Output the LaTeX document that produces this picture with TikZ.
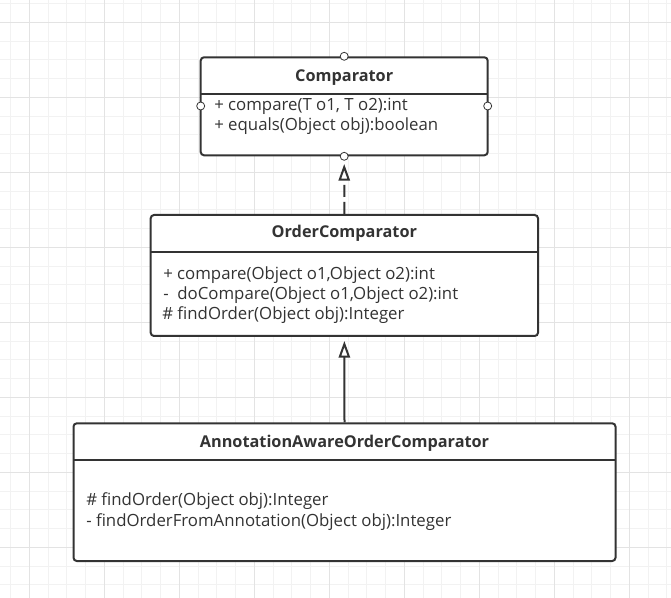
\documentclass[tikz,border=0pt]{standalone}
\usepackage{fontspec}
\setmainfont{Open Sans}
\usetikzlibrary{arrows.meta}
\definecolor{ink}{HTML}{333333}
\definecolor{gridminor}{HTML}{F2F2F2}
\definecolor{gridmajor}{HTML}{E3E3E3}
\tikzset{
  classbox/.style={draw=ink, line width=1.5pt, rounded corners=2.5pt, fill=white, inner sep=0pt},
  divider/.style={draw=ink, line width=1.5pt},
  classtitle/.style={font=\fontsize{12.2pt}{14pt}\selectfont\bfseries, text=ink, inner sep=0pt},
  member/.style={font=\fontsize{12.6pt}{14pt}\selectfont, text=ink, inner sep=0pt, anchor=west, align=left},
  port/.style={circle, draw=ink, line width=0.6pt, fill=white, minimum size=6pt, inner sep=0pt},
  realize/.style={draw=ink, line width=1.5pt, dash pattern=on 9pt off 3.75pt, -{Triangle[open, length=12.5pt, width=8.5pt, line width=1.5pt]}, shorten >=2.5pt},
  inherit/.style={draw=ink, line width=1.5pt, -{Triangle[open, length=12.5pt, width=8.5pt, line width=1.5pt]}, shorten >=3pt}
}
\begin{document}
\begin{tikzpicture}[x=0.75pt, y=-0.75pt]
\useasboundingbox (0,0) rectangle (671,598);
\fill[white] (0,0) rectangle (671,598);
% grid
\foreach \i in {0,...,35} {
  \draw[gridminor, line width=0.75pt] (10.55+18.75*\i,0) -- (10.55+18.75*\i,598);
  \draw[gridminor, line width=0.75pt] (0,3.55+18.75*\i) -- (671,3.55+18.75*\i);
}
\foreach \i in {0,...,8} {
  \draw[gridmajor, line width=0.75pt] (29.3+75*\i,0) -- (29.3+75*\i,598);
  \draw[gridmajor, line width=0.75pt] (0,22.3+75*\i) -- (671,22.3+75*\i);
}
% Comparator
\node[classbox, minimum width=215.25pt, minimum height=73.5pt] (cmp) at (344.2,106.3) {};
\draw[divider] (200.7,94.3) -- (487.7,94.3);
\node[classtitle] (cmpt) at (344.2,77.8) {Comparator};
\node[member] (cmpm1) at (214,106.5) {+ compare(T o1, T o2):int};
\node[member] (cmpm2) at (214,126) {+ equals(Object obj):boolean};
\node[port] (pt) at (cmp.north) {};
\node[port] (pl) at (200.7,106) {};
\node[port] (pr) at (487.7,106) {};
\node[port] (pb) at (cmp.south) {};
% OrderComparator
\node[classbox, minimum width=290.5pt, minimum height=90.75pt] (oc) at (344.35,275.5) {};
\draw[divider] (150.7,251.7) -- (538,251.7);
\node[classtitle] (oct) at (344.35,233.5) {OrderComparator};
\node[member] (ocm1) at (163,275) {+ compare(Object o1,Object o2):int};
\node[member] (ocm2) at (163,295.5) {-\ \ doCompare(Object o1,Object o2):int};
\node[member] (ocm3) at (162,315) {\# findOrder(Object obj):Integer};
% AnnotationAwareOrderComparator
\node[classbox, minimum width=406.5pt, minimum height=103.3pt] (aa) at (344.5,492.15) {};
\draw[divider] (73.5,460.3) -- (615.5,460.3);
\node[classtitle] (aat) at (344.5,442.8) {AnnotationAwareOrderComparator};
\node[member] (aam1) at (86,501.5) {\# findOrder(Object obj):Integer};
\node[member] (aam2) at (86,522) {- findOrderFromAnnotation(Object obj):Integer};
% connectors
\draw[realize] (oc.north) -- (pb.south);
\draw[inherit] (aa.north) -- (oc.south);
\end{tikzpicture}
\end{document}
